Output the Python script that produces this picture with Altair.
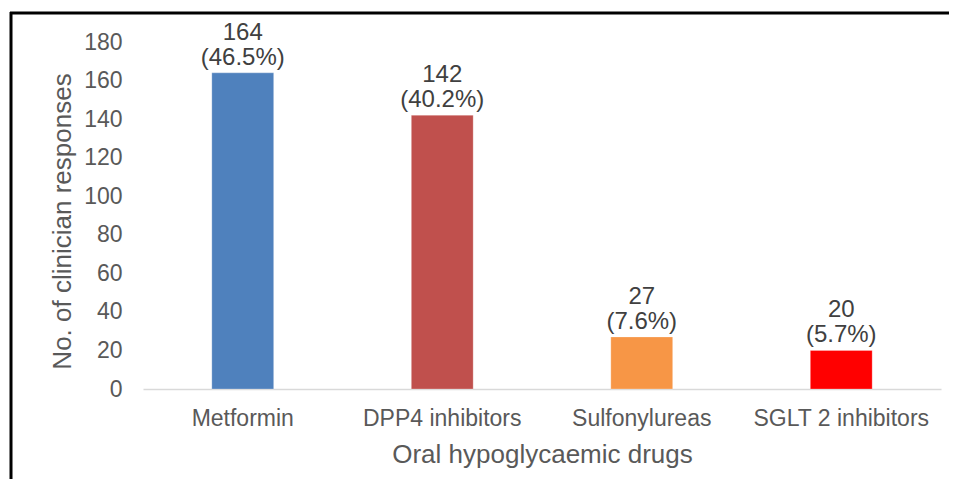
import altair as alt
import pandas as pd

categories = ["Metformin", "DPP4 inhibitors", "Sulfonylureas", "SGLT 2 inhibitors"]
counts = [164, 142, 27, 20]
percents = ["46.5%", "40.2%", "7.6%", "5.7%"]
colors = ["#4F81BD", "#C0504D", "#F79646", "#FF0000"]
y_ticks = [0, 20, 40, 60, 80, 100, 120, 140, 160, 180]

df = pd.DataFrame({"drug": categories, "count": counts, "pct": percents, "color": colors})
df["label"] = [f"{c}\n({p})" for c, p in zip(counts, percents)]

W, H = 798, 347
FONT = "Liberation Sans"
GRAY = "#595959"

x = alt.X(
    "drug:N",
    sort=categories,
    scale=alt.Scale(paddingInner=0.69, paddingOuter=0.345),
    axis=alt.Axis(
        title="Oral hypoglycaemic drugs",
        labelAngle=0,
        ticks=False,
        labelPadding=18,
        labelLimit=400,
        domainColor="#D9D9D9",
        domainWidth=1.5,
        labelFont=FONT,
        labelFontSize=23,
        labelColor=GRAY,
        titleFont=FONT,
        titleFontSize=26,
        titleColor=GRAY,
        titleFontWeight="normal",
        titleY=73,
        titleBaseline="alphabetic",
    ),
)

y = alt.Y(
    "count:Q",
    scale=alt.Scale(domain=[0, 180], nice=False),
    axis=alt.Axis(
        values=y_ticks,
        grid=False,
        domain=False,
        ticks=False,
        labelOverlap=False,
        labelPadding=21,
        labelFont=FONT,
        labelFontSize=23,
        labelColor=GRAY,
        title="No. of clinician responses",
        titleFont=FONT,
        titleFontSize=26,
        titleColor=GRAY,
        titleFontWeight="normal",
        titleX=-81,
        titleY=179,
        titleAngle=270,
        titleAlign="center",
        titleBaseline="middle",
    ),
)

base = alt.Chart(df)

bars = base.mark_bar(stroke="white", strokeWidth=0.5, strokeOpacity=0.5).encode(
    x=x, y=y, color=alt.Color("color:N", scale=None)
)

labels = base.mark_text(
    baseline="bottom",
    dy=-28,
    lineBreak="\n",
    lineHeight=25,
    font=FONT,
    fontSize=24,
    color="#404040",
).encode(x=x, y=y, text="label:N")

frame_df = pd.DataFrame({"k": [0]})
top_line = alt.Chart(frame_df).mark_rule(color="black", strokeWidth=3).encode(
    x=alt.value(-133), x2=alt.value(830), y=alt.value(-29)
)
left_line = alt.Chart(frame_df).mark_rule(color="black", strokeWidth=3).encode(
    x=alt.value(-132), y=alt.value(-30), y2=alt.value(470)
)

chart = (
    alt.layer(bars, labels, top_line, left_line)
    .properties(
        width=W,
        height=H,
        padding={"left": 135, "top": 34, "right": 8, "bottom": 90},
        autosize=alt.AutoSizeParams(type="none"),
    )
    .configure_view(stroke=None)
    .configure_axis(labelOverlap=False)
)

chart.save("out.html", embed_options={"renderer": "svg", "actions": False})
